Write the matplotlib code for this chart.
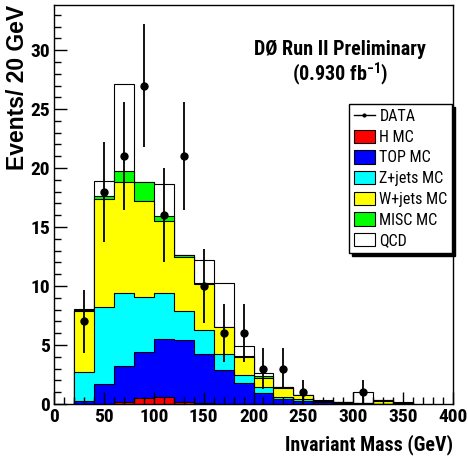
import matplotlib

matplotlib.use("Agg")
import matplotlib.pyplot as plt
import numpy as np
from matplotlib.lines import Line2D
from matplotlib.patches import Patch
from matplotlib.ticker import MultipleLocator

plt.rcParams["font.family"] = ["Roboto Condensed", "DejaVu Sans"]
plt.rcParams["mathtext.fontset"] = "custom"
plt.rcParams["mathtext.rm"] = "Roboto Condensed:bold"
plt.rcParams["mathtext.default"] = "rm"

# 20 GeV bins from 20 to 360 GeV
edges = np.arange(20, 361, 20)
centers = edges[:-1] + 10

# per-sample contributions (events / bin)
h_mc = [0, 0, 0.15, 0.5, 0.6, 0.15, 0.05, 0.02, 0.02, 0.01, 0, 0, 0, 0, 0, 0, 0]
top_mc = [0.25, 1.67, 3.05, 3.95, 4.9, 5.25, 4.15, 2.88, 1.78, 0.95, 0.42, 0.25, 0.15, 0.08, 0.03, 0.02, 0.02]
zjets_mc = [2.45, 6.53, 6.25, 4.6, 3.9, 2.45, 2.05, 1.3, 0.65, 0.44, 0.15, 0.15, 0.05, 0.04, 0.02, 0.02, 0.03]
wjets_mc = [5.15, 9.2, 9.35, 8.2, 6.15, 4.65, 3.95, 2.3, 1.53, 0.84, 0.82, 0.36, 0.05, 0.06, 0.03, 0.24, 0.05]
misc_mc = [0.15, 0.2, 0.95, 1.55, 0.4, 0.1, 0.1, 0.05, 0.07, 0.14, 0.02, 0.02, 0.03, 0.02, 0.02, 0.02, 0.02]
qcd = [0.05, 1.3, 7.4, 0.05, 2.7, 0.05, 1.9, 3.7, 0.87, 0.22, 0.01, 0.02, 0.02, 0, 0.9, 0, 0.03]
data = [7, 18, 21, 27, 16, 21, 10, 6, 6, 3, 3, 1, 0, 0, 1, 0, 0]

samples = [
    ("H MC", h_mc, "#ff0000"),
    ("TOP MC", top_mc, "#0000ff"),
    ("Z+jets MC", zjets_mc, "#00ffff"),
    ("W+jets MC", wjets_mc, "#ffff00"),
    ("MISC MC", misc_mc, "#00ff00"),
    ("QCD", qcd, "#ffffff"),
]

fig = plt.figure(figsize=(4.68, 4.59), dpi=100)
ax = fig.add_axes([54 / 468, 1 - 404 / 459, 399 / 468, 398.7 / 459])

# stack: draw cumulative sums from the top down, like THStack
cum = np.cumsum([np.array(v) for _, v, _ in samples], axis=0)
for (name, _, color), tot in reversed(list(zip(samples, cum))):
    ax.stairs(tot, edges, baseline=0, fill=True, facecolor=color,
              edgecolor="black", linewidth=0.8)

d = np.array(data, dtype=float)
m = d > 0
ax.errorbar(centers[m], d[m], yerr=np.sqrt(d[m]), fmt="o", color="black",
            markersize=5, elinewidth=1.3, capsize=0, zorder=5)

ax.set_xlim(0, 400)
ax.set_ylim(0, 33.8)
ax.xaxis.set_major_locator(MultipleLocator(50))
ax.xaxis.set_minor_locator(MultipleLocator(10))
ax.yaxis.set_major_locator(MultipleLocator(5))
ax.yaxis.set_minor_locator(MultipleLocator(1))
ax.tick_params(which="both", direction="in", top=False, right=False,
               labelsize=14, pad=3, width=1)
ax.tick_params(which="major", length=9)
ax.tick_params(which="minor", length=5)
for lab in ax.get_xticklabels() + ax.get_yticklabels():
    lab.set_fontweight("bold")
for sp in ax.spines.values():
    sp.set_linewidth(1)

ax.set_xlabel("Invariant Mass (GeV)", loc="right", fontsize=14.3,
              fontweight="bold", labelpad=6)
ax.set_ylabel("Events/ 20 GeV", loc="top", fontsize=16.5, fontweight="bold",
              family="Liberation Sans")
ax.yaxis.set_label_coords(-0.063, 1.0)

ax.text(0.717, 0.888, "DØ Run II Preliminary", transform=ax.transAxes,
        ha="center", va="center", fontsize=14.5, fontweight="bold")
ax.text(0.717, 0.828, r"(0.930 fb$^{-1}$)", transform=ax.transAxes,
        ha="center", va="center", fontsize=14.5, fontweight="bold")

handles = [Line2D([0], [0], color="black", lw=1, marker="o", markersize=2)]
handles += [Patch(facecolor=c, edgecolor="black", lw=0.8) for _, _, c in samples]
labels = ["DATA"] + [n for n, _, _ in samples]
leg = fig.legend(handles, labels, loc="upper left",
                 bbox_to_anchor=(349 / 468, 1 - 104 / 459),
                 fontsize=11.5, frameon=True, fancybox=False, framealpha=1,
                 edgecolor="black", borderpad=0.3, borderaxespad=0,
                 handlelength=1.3, handleheight=0.9, handletextpad=0.3,
                 labelspacing=0.35,
                 shadow={"color": "black", "alpha": 1})
leg.get_frame().set_linewidth(1)

fig.savefig("out.png", dpi=100)
plt.close(fig)
